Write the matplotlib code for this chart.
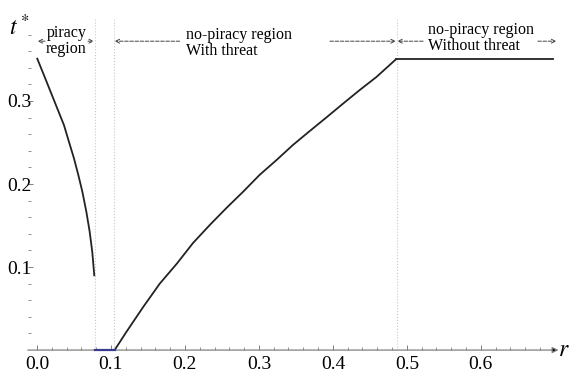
import matplotlib.pyplot as plt
import numpy as np

plt.rcParams['font.family'] = ['Liberation Serif', 'DejaVu Serif']
plt.rcParams['mathtext.fontset'] = 'stix'

# piracy region curve
r1 = [0.0004, 0.0095, 0.0185, 0.0275, 0.0365, 0.0432, 0.050, 0.0559,
      0.0613, 0.0667, 0.0712, 0.0748, 0.0775]
t1 = [0.351, 0.331, 0.311, 0.291, 0.271, 0.251, 0.231, 0.211,
      0.191, 0.167, 0.143, 0.118, 0.090]

# no-piracy region with threat
r2 = [0.105, 0.121, 0.1437, 0.166, 0.189, 0.211, 0.234, 0.256, 0.279,
      0.301, 0.324, 0.346, 0.369, 0.391, 0.414, 0.436, 0.459, 0.485]
t2 = [0.0, 0.022, 0.052, 0.080, 0.104, 0.129, 0.151, 0.171, 0.191,
      0.211, 0.229, 0.247, 0.264, 0.280, 0.297, 0.313, 0.329, 0.350]

# no-piracy region without threat
r3 = [0.485, 0.697]
t3 = [0.350, 0.350]

# zero segment (blue)
r0 = [0.078, 0.105]
t0 = [0.0, 0.0]

bounds = [0.078, 0.104, 0.486]
xticks = [0.0, 0.1, 0.2, 0.3, 0.4, 0.5, 0.6]
yticks = [0.1, 0.2, 0.3]

fig = plt.figure(figsize=(5.77, 3.74), dpi=100)
ax = fig.add_axes([0.048, 0.064, 0.920, 0.888])
ax.set_xlim(-0.0125, 0.705)
ax.set_ylim(0, 0.4)

for s in ax.spines.values():
    s.set_visible(False)

axcol = '#808080'
# axes with arrows
ax.annotate('', xy=(0.705, 0), xytext=(-0.0125, 0),
            arrowprops=dict(arrowstyle='-|>', color=axcol, lw=0.9,
                            mutation_scale=9, shrinkA=0, shrinkB=0,
                            fc='black', ec=axcol))
ax.annotate('', xy=(0, 0.401), xytext=(0, 0),
            arrowprops=dict(arrowstyle='-|>', color=axcol, lw=0.9,
                            mutation_scale=9, shrinkA=0, shrinkB=0,
                            fc='black', ec=axcol))

ax.set_xticks(xticks)
ax.set_xticklabels(['0.0', '0.1', '0.2', '0.3', '0.4', '0.5', '0.6'])
ax.set_yticks(yticks)
ax.set_yticklabels(['0.1', '0.2', '0.3'])
ax.set_xticks(np.arange(0.02, 0.70, 0.02), minor=True)
ax.set_yticks(np.arange(0.02, 0.39, 0.02), minor=True)
ax.tick_params(axis='both', which='major', direction='in', length=3.5,
               width=0.7, color=axcol, labelsize=14)
ax.tick_params(axis='y', which='major', pad=-2.5)
ax.tick_params(axis='x', which='major', pad=4)
ax.tick_params(axis='both', which='minor', direction='in', length=2,
               width=0.6, color=axcol)
ax.xaxis.set_ticks_position('bottom')
ax.yaxis.set_ticks_position('left')

for b in bounds:
    ax.plot([b, b], [0, 0.4], color='#c8c8c8', lw=0.8, ls=':', zorder=1)

ax.plot(r1, t1, color='#222222', lw=1.3, zorder=3)
ax.plot(r2, t2, color='#222222', lw=1.3, zorder=3)
ax.plot(r3, t3, color='#222222', lw=1.3, zorder=3)
ax.plot(r0, t0, color='#3a3a90', lw=1.6, zorder=4, clip_on=False)

# axis labels
ax.text(-0.024, 0.389, '$t^*$', fontsize=17, ha='center', va='center')
ax.text(0.712, 0.0, '$r$', fontsize=17, ha='center', va='center')

# region annotations
tc = 11.5
ay = 0.372
ap = dict(arrowstyle='->', color='#444444', lw=0.7, ls='--',
          mutation_scale=7, shrinkA=0, shrinkB=0)

ax.text(0.040, 0.372, 'piracy\nregion', fontsize=tc, ha='center',
        va='center', linespacing=1.05)
ax.annotate('', xy=(0.001, ay), xytext=(0.011, ay), arrowprops=ap)
ax.annotate('', xy=(0.077, ay), xytext=(0.069, ay), arrowprops=ap)

ax.text(0.201, 0.370, 'no-piracy region\nWith threat', fontsize=tc,
        ha='left', va='center', linespacing=1.05)
ax.annotate('', xy=(0.105, ay), xytext=(0.193, ay), arrowprops=ap)
ax.annotate('', xy=(0.485, ay), xytext=(0.396, ay), arrowprops=ap)

ax.text(0.528, 0.376, 'no-piracy region\nWithout threat', fontsize=tc,
        ha='left', va='center', linespacing=1.05)
ax.annotate('', xy=(0.487, ay), xytext=(0.522, ay), arrowprops=ap)
ax.annotate('', xy=(0.702, ay), xytext=(0.677, ay), arrowprops=ap)

fig.savefig('out.png', dpi=100)
